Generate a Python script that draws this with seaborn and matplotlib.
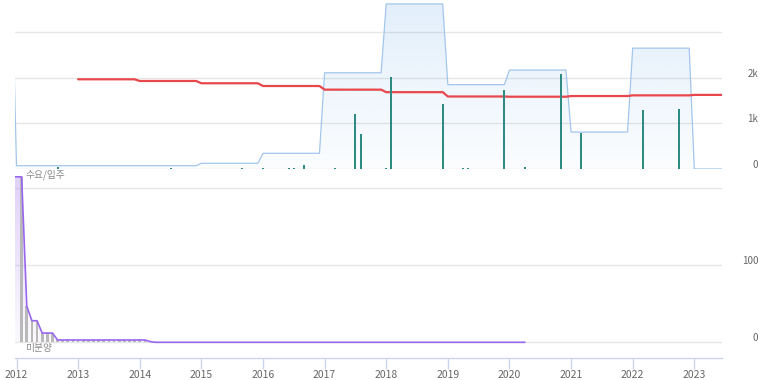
import numpy as np
import pandas as pd
import matplotlib
matplotlib.use("Agg")
import matplotlib.pyplot as plt
import matplotlib.colors as mcolors
import matplotlib.transforms as mtransforms
import seaborn as sns

# ---- data ----
# yearly supply (입주 물량), drawn as a stepped area
supply_years = [2011, 2012, 2013, 2014, 2015, 2016, 2017, 2018, 2019, 2020, 2021, 2022, 2023]
supply_totals = [4760, 72, 72, 72, 125, 344, 2110, 3620, 1850, 2170, 810, 2650, 0]

# yearly demand (수요)
demand_years = [2013, 2014, 2015, 2016, 2017, 2018, 2019, 2020, 2021, 2022, 2023]
demand_values = [1967, 1930, 1880, 1820, 1740, 1685, 1590, 1585, 1600, 1615, 1625]

# monthly move-ins (bars)
movein_months = ["2012-09", "2014-07", "2015-09", "2016-01", "2016-06", "2016-07", "2016-09",
                 "2017-03", "2017-07", "2017-08", "2018-01", "2018-02", "2018-12", "2019-04",
                 "2019-05", "2019-12", "2020-04", "2020-11", "2021-03", "2022-03", "2022-10"]
movein_values = [50, 15, 15, 15, 20, 20, 85,
                 15, 1200, 760, 30, 2010, 1425, 20,
                 20, 1730, 40, 2085, 780, 1290, 1315]

# monthly unsold (미분양), Dec 2011 .. May 2014, then flat zero to Apr 2020
unsold_months = list(pd.period_range("2011-12", "2014-05", freq="M").strftime("%Y-%m")) + ["2020-04"]
unsold_values = [215,
                 215, 215, 47, 28, 28, 12, 12, 12, 3, 3, 3, 3,
                 3, 3, 3, 3, 3, 3, 3, 3, 3, 3, 3, 3,
                 3, 3, 1, 0, 0,
                 0]
unsold_bar_from = "2012-02"

years = list(range(2012, 2024))


def month_x(s):
    y, m = s.split("-")
    return int(y) + (int(m) - 1) / 12


def step_points(yrs, vals):
    xs, ys = [], []
    for y, v in zip(yrs, vals):
        xs += [y, y + 11 / 12]
        ys += [v, v]
    return np.array(xs), np.array(ys)


def gradient_fill(ax, x, y, color, a_top, a_bot, ybase, ytop):
    poly = ax.fill_between(x, y, ybase, color="none", lw=0)
    rgb = mcolors.to_rgb(color)
    grad = np.zeros((200, 1, 4))
    grad[:, 0, :3] = rgb
    grad[:, 0, 3] = np.linspace(a_top, a_bot, 200)
    im = ax.imshow(grad, aspect="auto", origin="upper", zorder=1,
                   extent=[x.min(), x.max(), ybase, ytop], interpolation="bilinear")
    im.set_clip_path(poly.get_paths()[0], transform=ax.transData)


sns.set_style("white")
plt.rcParams["font.family"] = ["Noto Sans CJK KR", "DejaVu Sans"]

W, H = 773, 380
fig = plt.figure(figsize=(W / 100, H / 100), dpi=100)
ax_top = fig.add_axes([15 / W, 1 - 169 / H, 707 / W, 169 / H])
ax_bot = fig.add_axes([15 / W, 1 - 358 / H, 707 / W, 182 / H], sharex=ax_top)

xlim = (2012 - 1.5 / 61.62, 2012 + (722 - 16.5) / 61.62)
grid_c = "#e6e6e6"
label_c = "#666666"

# ---- top panel ----
sx, sy = step_points(supply_years, supply_totals)
gradient_fill(ax_top, sx, sy, "#7cb5ec", 0.22, 0.03, 0, max(supply_totals[1:]))
sns.lineplot(x=sx, y=sy, ax=ax_top, color="#a3c6ec", linewidth=0.9,
             estimator=None, sort=False, zorder=3)

ax_top.bar([month_x(m) for m in movein_months], movein_values, width=0.033,
           color="#2e8b84", linewidth=0, edgecolor="none", zorder=4)

dx, dy = step_points(demand_years, demand_values)
sns.lineplot(x=dx, y=dy, ax=ax_top, color="#e8474c", linewidth=1.6,
             estimator=None, sort=False, zorder=3.5)

ax_top.set_xlim(*xlim)
ax_top.set_ylim(0, 3706)
ax_top.set_yticks([0, 1000, 2000, 3000])
ax_top.set_yticklabels(["0", "1k", "2k", ""])
ax_top.tick_params(axis="x", bottom=False, labelbottom=False)

# ---- bottom panel ----
ux = np.array([month_x(m) for m in unsold_months])
uy = np.array(unsold_values)
gradient_fill(ax_bot, ux, uy, "#9966ee", 0.30, 0.04, 0, max(unsold_values))
bar_idx = unsold_months.index(unsold_bar_from)
ax_bot.bar(ux[bar_idx:], uy[bar_idx:], width=0.044, color="#b9b9b9",
           linewidth=0, edgecolor="none", zorder=2)
sns.lineplot(x=ux, y=uy, ax=ax_bot, color="#9966ee", linewidth=1.2,
             estimator=None, sort=False, zorder=3)

ax_bot.set_xlim(*xlim)
ax_bot.set_ylim(-20.4, 216)
ax_bot.set_yticks([0, 100, 200])
ax_bot.set_yticklabels(["0", "100", ""])
ax_bot.set_xticks(years)
ax_bot.set_xticklabels([str(y) for y in years])
ax_bot.tick_params(axis="x", bottom=True, length=8, width=1, color="#ccd6eb",
                   pad=1, labelsize=7.5, labelcolor=label_c)

for ax in (ax_top, ax_bot):
    ax.grid(axis="y", color=grid_c, linewidth=1)
    ax.grid(axis="x", visible=False)
    ax.set_axisbelow(True)
    for side in ("top", "left", "right", "bottom"):
        ax.spines[side].set_visible(False)
    ax.yaxis.tick_right()
    ax.tick_params(axis="y", length=0, pad=26, labelsize=7, labelcolor=label_c)
    for lab in ax.get_yticklabels():
        lab.set_horizontalalignment("right")
        lab.set_transform(lab.get_transform() +
                          mtransforms.ScaledTranslation(0, 0.05, fig.dpi_scale_trans))
    ax.set_xlabel("")
    ax.set_ylabel("")

ax_bot.spines["bottom"].set_visible(True)
ax_bot.spines["bottom"].set_color("#ccd6eb")
ax_bot.spines["bottom"].set_linewidth(1)

fig.text(25 / W, 1 - 175 / H, "수요/입주", fontsize=7, color="#888888",
         style="italic", va="center", ha="left")
fig.text(25 / W, 1 - 348 / H, "미분양", fontsize=7, color="#888888",
         style="italic", va="center", ha="left")

fig.savefig("out.png", dpi=100)
